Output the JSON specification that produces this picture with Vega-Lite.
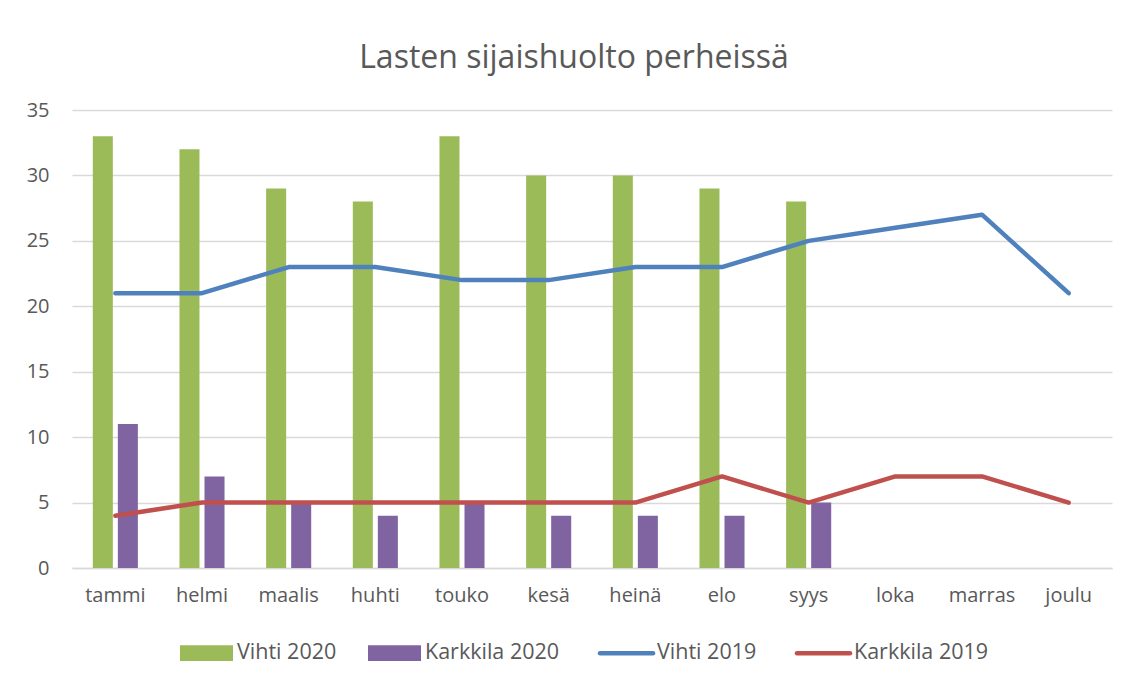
{
  "$schema": "https://vega.github.io/schema/vega-lite/v6.json",
  "width": 1040,
  "height": 458,
  "autosize": "none",
  "padding": {"left": 72, "top": 110, "right": 17, "bottom": 115},
  "background": "white",
  "config": {"view": {"stroke": null}, "font": "Open Sans"},
  "title": {"text": "Lasten sijaishuolto perheissä", "fontSize": 32, "font": "Open Sans", "fontWeight": "normal", "color": "#595959", "anchor": "middle", "dx": -18, "dy": 40, "offset": 40, "baseline": "alphabetic"},
  "data": {"values": [
    {"month": "tammi", "series": "Vihti 2020", "value": 33},
    {"month": "helmi", "series": "Vihti 2020", "value": 32},
    {"month": "maalis", "series": "Vihti 2020", "value": 29},
    {"month": "huhti", "series": "Vihti 2020", "value": 28},
    {"month": "touko", "series": "Vihti 2020", "value": 33},
    {"month": "kesä", "series": "Vihti 2020", "value": 30},
    {"month": "heinä", "series": "Vihti 2020", "value": 30},
    {"month": "elo", "series": "Vihti 2020", "value": 29},
    {"month": "syys", "series": "Vihti 2020", "value": 28},
    {"month": "tammi", "series": "Karkkila 2020", "value": 11},
    {"month": "helmi", "series": "Karkkila 2020", "value": 7},
    {"month": "maalis", "series": "Karkkila 2020", "value": 5},
    {"month": "huhti", "series": "Karkkila 2020", "value": 4},
    {"month": "touko", "series": "Karkkila 2020", "value": 5},
    {"month": "kesä", "series": "Karkkila 2020", "value": 4},
    {"month": "heinä", "series": "Karkkila 2020", "value": 4},
    {"month": "elo", "series": "Karkkila 2020", "value": 4},
    {"month": "syys", "series": "Karkkila 2020", "value": 5},
    {"month": "tammi", "series": "Vihti 2019", "value": 21},
    {"month": "helmi", "series": "Vihti 2019", "value": 21},
    {"month": "maalis", "series": "Vihti 2019", "value": 23},
    {"month": "huhti", "series": "Vihti 2019", "value": 23},
    {"month": "touko", "series": "Vihti 2019", "value": 22},
    {"month": "kesä", "series": "Vihti 2019", "value": 22},
    {"month": "heinä", "series": "Vihti 2019", "value": 23},
    {"month": "elo", "series": "Vihti 2019", "value": 23},
    {"month": "syys", "series": "Vihti 2019", "value": 25},
    {"month": "loka", "series": "Vihti 2019", "value": 26},
    {"month": "marras", "series": "Vihti 2019", "value": 27},
    {"month": "joulu", "series": "Vihti 2019", "value": 21},
    {"month": "tammi", "series": "Karkkila 2019", "value": 4},
    {"month": "helmi", "series": "Karkkila 2019", "value": 5},
    {"month": "maalis", "series": "Karkkila 2019", "value": 5},
    {"month": "huhti", "series": "Karkkila 2019", "value": 5},
    {"month": "touko", "series": "Karkkila 2019", "value": 5},
    {"month": "kesä", "series": "Karkkila 2019", "value": 5},
    {"month": "heinä", "series": "Karkkila 2019", "value": 5},
    {"month": "elo", "series": "Karkkila 2019", "value": 7},
    {"month": "syys", "series": "Karkkila 2019", "value": 5},
    {"month": "loka", "series": "Karkkila 2019", "value": 7},
    {"month": "marras", "series": "Karkkila 2019", "value": 7},
    {"month": "joulu", "series": "Karkkila 2019", "value": 5}
  ]},
  "encoding": {
    "x": {
      "field": "month", "type": "nominal",
      "sort": ["tammi", "helmi", "maalis", "huhti", "touko", "kesä", "heinä", "elo", "syys", "loka", "marras", "joulu"],
      "scale": {"paddingInner": 0.48, "paddingOuter": 0.24},
      "axis": {"title": null, "labelAngle": 0, "labelFontSize": 20, "labelColor": "#595959", "labelFont": "Open Sans", "ticks": false, "domain": true, "domainColor": "#D9D9D9", "domainWidth": 1.3, "labelPadding": 17, "grid": false}
    },
    "y": {
      "field": "value", "type": "quantitative",
      "scale": {"domain": [0, 35], "nice": false},
      "axis": {"title": null, "values": [0, 5, 10, 15, 20, 25, 30, 35], "grid": true, "gridColor": "#D9D9D9", "gridWidth": 1.3, "domain": false, "ticks": false, "labelFontSize": 20, "labelColor": "#595959", "labelFont": "Open Sans", "labelPadding": 23}
    }
  },
  "layer": [
    {
      "transform": [{"filter": "test(/2020/, datum.series)"}],
      "mark": {"type": "bar"},
      "encoding": {
        "xOffset": {"field": "series", "type": "nominal", "sort": ["Vihti 2020", "Karkkila 2020"], "scale": {"paddingInner": 0.2}},
        "color": {
          "field": "series", "type": "nominal",
          "scale": {"domain": ["Vihti 2020", "Karkkila 2020", "Vihti 2019", "Karkkila 2019"], "range": ["#9BBB59", "#8064A2", "#4F81BD", "#C0504D"]},
          "legend": {
            "orient": "none", "legendX": 108, "legendY": 532, "direction": "horizontal", "title": null,
            "labelFontSize": 21.5, "labelColor": "#595959", "labelFont": "Open Sans",
            "symbolSize": 2809, "labelOffset": 4, "columnPadding": 31,
            "encode": {
              "symbols": {"update": {
                "x": {"value": 26.5},
                "shape": {"signal": "test(/2019/, datum.label) ? 'M-1,0H1' : 'M-1,-0.3H1V0.3H-1Z'"},
                "fill": {"signal": "scale('color', datum.value)"},
                "stroke": {"signal": "scale('color', datum.value)"},
                "strokeWidth": {"signal": "test(/2019/, datum.label) ? 4.5 : 0"},
                "strokeCap": {"value": "round"},
                "opacity": {"value": 1},
                "fillOpacity": {"value": 1}
              }},
              "labels": {"update": {"x": {"value": 57}}}
            }
          }
        }
      }
    },
    {
      "transform": [{"filter": "test(/2019/, datum.series)"}],
      "mark": {"type": "line", "strokeWidth": 4.5, "strokeCap": "round", "strokeJoin": "round"},
      "encoding": {
        "color": {
          "field": "series", "type": "nominal",
          "scale": {"domain": ["Vihti 2020", "Karkkila 2020", "Vihti 2019", "Karkkila 2019"], "range": ["#9BBB59", "#8064A2", "#4F81BD", "#C0504D"]},
          "legend": {
            "orient": "none", "legendX": 108, "legendY": 532, "direction": "horizontal", "title": null,
            "labelFontSize": 21.5, "labelColor": "#595959", "labelFont": "Open Sans",
            "symbolSize": 2809, "labelOffset": 4, "columnPadding": 31,
            "encode": {
              "symbols": {"update": {
                "x": {"value": 26.5},
                "shape": {"signal": "test(/2019/, datum.label) ? 'M-1,0H1' : 'M-1,-0.3H1V0.3H-1Z'"},
                "fill": {"signal": "scale('color', datum.value)"},
                "stroke": {"signal": "scale('color', datum.value)"},
                "strokeWidth": {"signal": "test(/2019/, datum.label) ? 4.5 : 0"},
                "strokeCap": {"value": "round"},
                "opacity": {"value": 1},
                "fillOpacity": {"value": 1}
              }},
              "labels": {"update": {"x": {"value": 57}}}
            }
          }
        }
      }
    }
  ]
}
